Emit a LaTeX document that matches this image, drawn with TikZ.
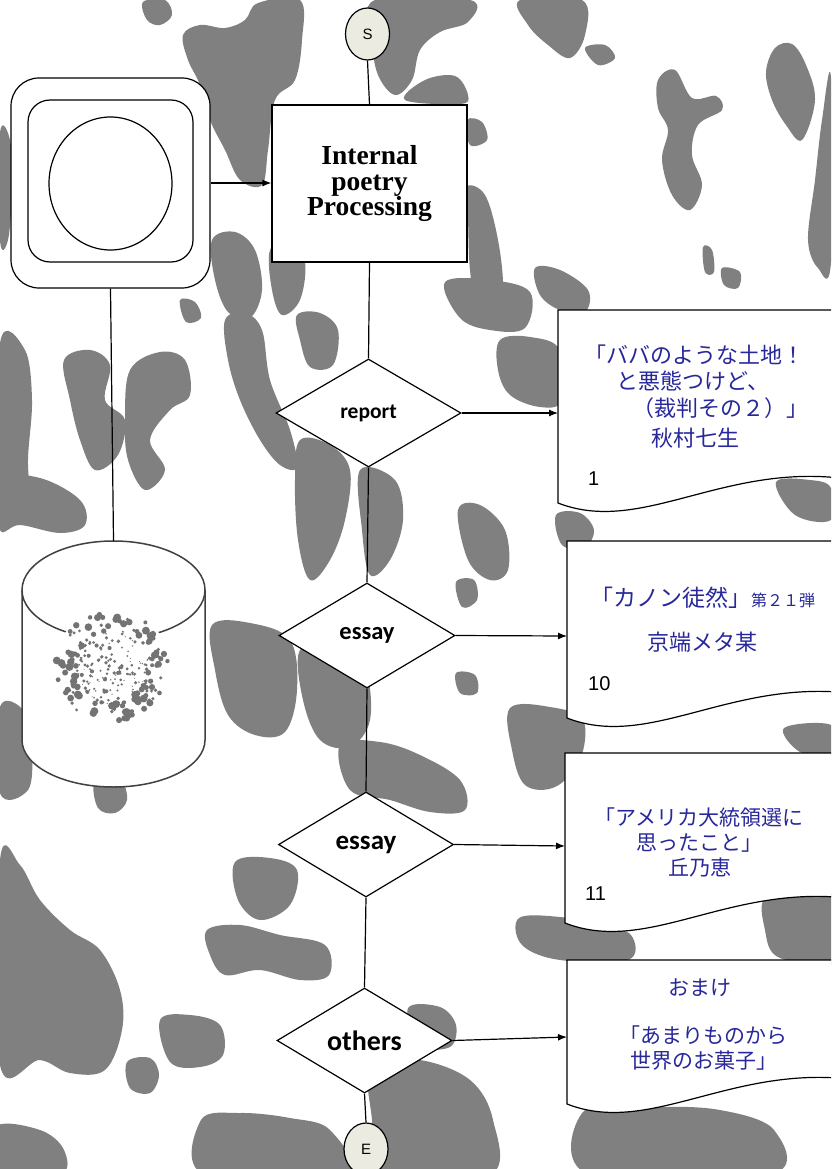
\documentclass[tikz,border=0pt]{standalone}
\usepackage{fontspec}
\usetikzlibrary{shapes.geometric,arrows.meta,calc}
\newfontfamily\jpfont{Noto Sans CJK JP}
\newfontfamily\calfont{Carlito}
\newfontfamily\tnrfont{Liberation Serif}
\newfontfamily\arialfont{Liberation Sans}
\definecolor{bggray}{RGB}{128,128,128}
\definecolor{inkblue}{RGB}{40,40,155}
\definecolor{cream}{RGB}{236,235,225}
\tikzset{
  blob/.style={fill=bggray,draw=none},
  conn/.style={draw=black,line width=1.2pt},
  arr/.style={conn,-{Latex[length=9pt,width=7pt]}},
  dec/.style={shape=diamond,draw,line width=1.2pt,fill=white,inner sep=0pt,text=black},
  term/.style={ellipse,draw,line width=1.2pt,fill=cream,inner sep=0pt,minimum width=44pt,minimum height=52pt,font=\arialfont\fontsize{15}{15}\selectfont},
  jp/.style={text=inkblue,font=\jpfont\fontsize{22}{22}\selectfont,inner sep=0pt},
  num/.style={font=\arialfont\fontsize{20}{20}\selectfont,inner sep=0pt,anchor=base west},
  doc/.style={draw=black,line width=1.2pt,fill=white},
  virus/.style={fill=black!55},
}
\begin{document}
\begin{tikzpicture}[x=1pt,y=-1pt]
\useasboundingbox (0,0) rectangle (831,1169);
\clip (0,0) rectangle (831,1169);
\fill[white] (0,0) rectangle (831,1169);
% background texture
\fill[blob] plot[smooth cycle,tension=0.6] coordinates {(143,2)(165,0)(172,15)(160,25)(147,20)};
\fill[blob] plot[smooth cycle,tension=0.6] coordinates {(183,35)(200,25)(225,28)(245,20)(258,3)(300,0)(302,40)(295,80)(275,100)(268,150)(262,185)(240,180)(225,150)(210,120)(200,85)(188,60)};
\fill[blob] plot[smooth cycle,tension=0.6] coordinates {(375,0)(470,0)(468,22)(440,32)(420,50)(412,80)(395,95)(378,75)(372,40)};
\fill[blob] plot[smooth cycle,tension=0.6] coordinates {(405,100)(425,80)(455,76)(468,95)(460,104)};
\fill[blob] plot[smooth cycle,tension=0.6] coordinates {(520,0)(582,0)(585,35)(570,58)(548,45)(528,25)};
\fill[blob] plot[smooth cycle,tension=0.6] coordinates {(585,48)(605,45)(615,58)(598,65)};
\fill[blob] plot[smooth cycle,tension=0.6] coordinates {(658,80)(675,70)(692,98)(716,96)(722,110)(698,125)(692,155)(702,185)(690,210)(672,195)(662,160)(668,130)(658,108)};
\fill[blob] plot[smooth cycle,tension=0.6] coordinates {(775,48)(792,44)(806,65)(815,100)(802,140)(786,125)(772,100)(766,72)};
\fill[blob] plot[smooth cycle,tension=0.6] coordinates {(831,78)(822,120)(815,180)(808,240)(818,268)(831,262)};
\fill[blob] plot[smooth cycle,tension=0.6] coordinates {(467,120)(482,122)(487,140)(470,145)};
\fill[blob] plot[smooth cycle,tension=0.6] coordinates {(466,187)(485,195)(498,240)(503,290)(495,325)(478,320)(470,270)(468,220)};
\fill[blob] plot[smooth cycle,tension=0.6] coordinates {(212,240)(235,232)(255,250)(262,290)(250,318)(228,312)(215,280)};
\fill[blob] plot[smooth cycle,tension=0.6] coordinates {(270,250)(290,240)(305,262)(300,300)(282,315)(272,290)};
\fill[blob] plot[smooth cycle,tension=0.6] coordinates {(535,268)(560,270)(588,290)(585,312)(560,310)(540,295)};
\fill[blob] plot[smooth cycle,tension=0.6] coordinates {(703,247)(712,250)(714,272)(705,272)};
\fill[blob] plot[smooth cycle,tension=0.6] coordinates {(722,268)(740,272)(738,288)(724,285)};
\fill[blob] plot[smooth cycle,tension=0.6] coordinates {(0,133)(10,140)(12,190)(8,240)(0,240)};
\fill[blob] plot[smooth cycle,tension=0.6] coordinates {(0,343)(25,350)(32,400)(28,460)(30,510)(15,515)(0,512)};
\fill[blob] plot[smooth cycle,tension=0.6] coordinates {(64,360)(90,350)(110,365)(105,400)(125,420)(118,455)(95,470)(80,440)(70,400)};
\fill[blob] plot[smooth cycle,tension=0.6] coordinates {(130,370)(160,352)(185,360)(190,395)(170,410)(150,440)(165,470)(145,490)(128,460)(125,420)};
\fill[blob] plot[smooth cycle,tension=0.6] coordinates {(0,480)(40,478)(80,500)(85,525)(60,533)(20,525)(0,530)};
\fill[blob] plot[smooth cycle,tension=0.6] coordinates {(180,300)(195,302)(201,318)(186,322)};
\fill[blob] plot[smooth cycle,tension=0.6] coordinates {(225,320)(245,313)(262,330)(270,380)(290,430)(297,467)(280,465)(260,440)(240,400)(228,360)};
\fill[blob] plot[smooth cycle,tension=0.6] coordinates {(297,315)(320,313)(338,330)(333,365)(310,367)(300,340)};
\fill[blob] plot[smooth cycle,tension=0.6] coordinates {(300,440)(330,445)(350,470)(345,520)(330,560)(310,580)(298,540)(295,480)};
\fill[blob] plot[smooth cycle,tension=0.6] coordinates {(360,470)(395,480)(403,520)(390,560)(370,575)(362,530)};
\fill[blob] plot[smooth cycle,tension=0.6] coordinates {(445,282)(490,280)(530,292)(525,328)(490,330)(460,318)};
\fill[blob] plot[smooth cycle,tension=0.6] coordinates {(500,340)(530,337)(560,350)(562,400)(540,407)(510,395)(498,370)};
\fill[blob] plot[smooth cycle,tension=0.6] coordinates {(458,510)(480,505)(505,530)(508,570)(490,580)(468,560)};
\fill[blob] plot[smooth cycle,tension=0.6] coordinates {(556,515)(580,513)(594,530)(585,547)(562,545)};
\fill[blob] plot[smooth cycle,tension=0.6] coordinates {(776,482)(810,480)(831,488)(831,520)(795,515)};
\fill[blob] plot[smooth cycle,tension=0.6] coordinates {(212,625)(250,623)(290,640)(297,690)(285,732)(255,735)(228,715)(215,670)};
\fill[blob] plot[smooth cycle,tension=0.6] coordinates {(300,650)(335,648)(365,670)(370,720)(350,747)(320,740)(303,700)};
\fill[blob] plot[smooth cycle,tension=0.6] coordinates {(456,673)(475,675)(477,693)(460,693)};
\fill[blob] plot[smooth cycle,tension=0.6] coordinates {(510,708)(550,707)(583,720)(580,760)(555,787)(525,785)(512,750)};
\fill[blob] plot[smooth cycle,tension=0.6] coordinates {(340,745)(380,742)(420,755)(460,780)(465,810)(430,812)(390,800)(350,790)};
\fill[blob] plot[smooth cycle,tension=0.6] coordinates {(0,707)(25,712)(32,750)(28,790)(0,793)};
\fill[blob] plot[smooth cycle,tension=0.6] coordinates {(95,782)(120,780)(127,800)(115,813)(98,808)};
\fill[blob] plot[smooth cycle,tension=0.6] coordinates {(784,728)(831,725)(831,753)(800,752)};
\fill[blob] plot[smooth cycle,tension=0.6] coordinates {(456,582)(474,580)(477,600)(462,607)};
\fill[blob] plot[smooth cycle,tension=0.6] coordinates {(0,860)(20,865)(40,900)(70,930)(100,950)(120,990)(122,1030)(105,1070)(70,1073)(40,1060)(0,1065)};
\fill[blob] plot[smooth cycle,tension=0.6] coordinates {(207,930)(240,925)(280,935)(325,945)(329,975)(300,980)(260,970)(225,975)(210,955)};
\fill[blob] plot[smooth cycle,tension=0.6] coordinates {(235,862)(270,858)(297,870)(290,905)(260,920)(238,900)};
\fill[blob] plot[smooth cycle,tension=0.6] coordinates {(160,1020)(190,1015)(220,1025)(223,1055)(200,1067)(170,1062)};
\fill[blob] plot[smooth cycle,tension=0.6] coordinates {(127,1062)(150,1058)(159,1075)(150,1093)(130,1088)};
\fill[blob] plot[smooth cycle,tension=0.6] coordinates {(201,1120)(240,1113)(290,1118)(330,1130)(344,1175)(205,1175)};
\fill[blob] plot[smooth cycle,tension=0.6] coordinates {(371,1065)(420,1060)(470,1080)(493,1120)(490,1175)(380,1175)(372,1120)};
\fill[blob] plot[smooth cycle,tension=0.6] coordinates {(408,1008)(440,1007)(456,1025)(450,1047)(420,1045)};
\fill[blob] plot[smooth cycle,tension=0.6] coordinates {(583,1112)(650,1107)(720,1110)(774,1130)(770,1175)(590,1175)};
\fill[blob] plot[smooth cycle,tension=0.6] coordinates {(768,895)(831,893)(840,960)(780,958)(765,930)};
\fill[blob] plot[smooth cycle,tension=0.6] coordinates {(519,918)(560,917)(600,925)(631,935)(628,960)(560,960)(522,945)};
\fill[blob] plot[smooth cycle,tension=0.6] coordinates {(-5,1127)(40,1130)(64,1150)(60,1175)(-5,1175)};

% left structure
\node[draw,line width=1.2pt,fill=white,rounded corners=28pt,minimum width=199pt,minimum height=210pt,inner sep=0pt] (sq) at (110.5,183) {};
\node[draw,line width=1.2pt,fill=white,rounded corners=22pt,minimum width=165pt,minimum height=162pt,inner sep=0pt] (sqin) at (110.5,181) {};
\node[draw,line width=1.2pt,ellipse,fill=white,minimum width=123pt,minimum height=133pt,inner sep=0pt] (sqc) at (110.5,183.5) {};

\node[inner sep=0pt,minimum width=183pt,minimum height=246pt] (cyl) at (113.5,664) {};
\draw[line width=1.5pt,draw=black!75,fill=white] (22,590) -- (22,740) arc[start angle=180,end angle=0,x radius=91.5,y radius=47] -- (205,590) arc[start angle=0,end angle=-180,x radius=91.5,y radius=49] -- cycle;
\draw[line width=1.5pt,draw=black!75] (22,590) arc[start angle=180,end angle=0,x radius=91.5,y radius=49];
\fill[white] (112,667) circle[radius=58pt];
\coordinate (vir) at (112,667);
\pgfmathsetseed{42}
\foreach \i in {1,...,120}{
  \pgfmathsetmacro\ang{rnd*360}
  \pgfmathsetmacro\rad{36+rnd*20}
  \pgfmathsetmacro\sz{1.4+rnd*2.6}
  \fill[virus] ($(vir)+(\ang:\rad)$) circle[radius=\sz pt];
}
\foreach \i in {1,...,140}{
  \pgfmathsetmacro\ang{rnd*360}
  \pgfmathsetmacro\rad{38*sqrt(rnd)}
  \pgfmathsetmacro\sz{0.5+rnd*1.6}
  \fill[virus] ($(vir)+(\ang:\rad)$) circle[radius=\sz pt];
}

% main column
\node[term] (S) at (367.5,34) {S};
\node[draw,line width=1.2pt,fill=white,minimum width=195pt,minimum height=157pt,inner sep=0pt,align=center,font=\tnrfont\bfseries\fontsize{27.5}{25.5}\selectfont] (proc) at (369.5,183.5) {Internal\\poetry\\Processing};
\node[dec,minimum width=185pt,minimum height=108pt,font=\calfont\bfseries\fontsize{21.5}{21.5}\selectfont] (rep) at (368.5,413) {report};
\node[dec,minimum width=176pt,minimum height=105pt,font=\calfont\bfseries\fontsize{24.5}{24.5}\selectfont] (es1) at (367,635.5) {essay};
\node[dec,minimum width=175pt,minimum height=105pt,font=\calfont\bfseries\fontsize{27}{27}\selectfont] (es2) at (366,844.5) {essay};
\node[dec,minimum width=175pt,minimum height=105pt,font=\calfont\bfseries\fontsize{28}{28}\selectfont] (oth) at (364.5,1040.5) {others};
\node[term] (E) at (366,1149) {E};

% documents
\draw[doc] (558,310) -- (558,503) .. controls (640,535) and (720,465) .. (840,478) -- (840,310) -- cycle;
\draw[doc] (567,541) -- (567,718) .. controls (649,750) and (729,680) .. (849,693) -- (849,541) -- cycle;
\draw[doc] (565,753) -- (565,923) .. controls (647,955) and (727,885) .. (847,898) -- (847,753) -- cycle;
\draw[doc] (567,960) -- (567,1104) .. controls (649,1136) and (729,1066) .. (849,1079) -- (849,960) -- cycle;
\coordinate (d1) at (558,413);
\coordinate (d2) at (567,636);
\coordinate (d3) at (565,846);
\coordinate (d4) at (567,1037);

% connectors
\draw[conn] (S.south) -- (proc.north);
\draw[arr] (sq.east) -- (sq.east -| proc.west);
\draw[conn] (sq.south) -- (cyl.north);
\draw[conn] (proc.south) -- (rep.north);
\draw[conn] (rep.south) -- (es1.north);
\draw[conn] (es1.south) -- (es2.north);
\draw[conn] (es2.south) -- (oth.north);
\draw[conn] (oth.south) -- (E.north);
\draw[arr] (rep.east) -- (d1);
\draw[arr] (es1.east) -- (d2);
\draw[arr] (es2.east) -- (d3);
\draw[arr] (oth.east) -- (d4);

% document texts
\node[jp,anchor=west] (t11) at (584,355) {「ババのような土地！};
\node[jp,anchor=west] (t12) at (616,381) {と悪態つけど、};
\node[jp,anchor=east] (t13) at (809,408) {（裁判その２）」};
\node[jp] (t14) at (695,438) {秋村七生};
\node[num] (n1) at (588,485) {1};

\node[jp,anchor=west,font=\jpfont\fontsize{23}{23}\selectfont] (t21) at (590,598) {「カノン徒然」{\fontsize{16}{16}\selectfont 第２１弾}};
\node[jp] (t22) at (702,642) {京端メタ某};
\node[num] (n2) at (588,690) {10};

\node[jp,anchor=west,font=\jpfont\fontsize{21}{21}\selectfont] (t31) at (594,817) {「アメリカ大統領選に};
\node[jp,anchor=west,font=\jpfont\fontsize{21}{21}\selectfont] (t32) at (636,843) {思ったこと」};
\node[jp,font=\jpfont\fontsize{21}{21}\selectfont] (t33) at (700,868) {丘乃恵};
\node[num] (n3) at (585,900) {11};

\node[jp,font=\jpfont\fontsize{21}{21}\selectfont] (t41) at (700,988) {おまけ};
\node[jp,anchor=west,font=\jpfont\fontsize{21}{21}\selectfont] (t42) at (619,1035) {「あまりものから};
\node[jp,anchor=west,font=\jpfont\fontsize{21}{21}\selectfont] (t43) at (630,1061) {世界のお菓子」};
\end{tikzpicture}
\end{document}
